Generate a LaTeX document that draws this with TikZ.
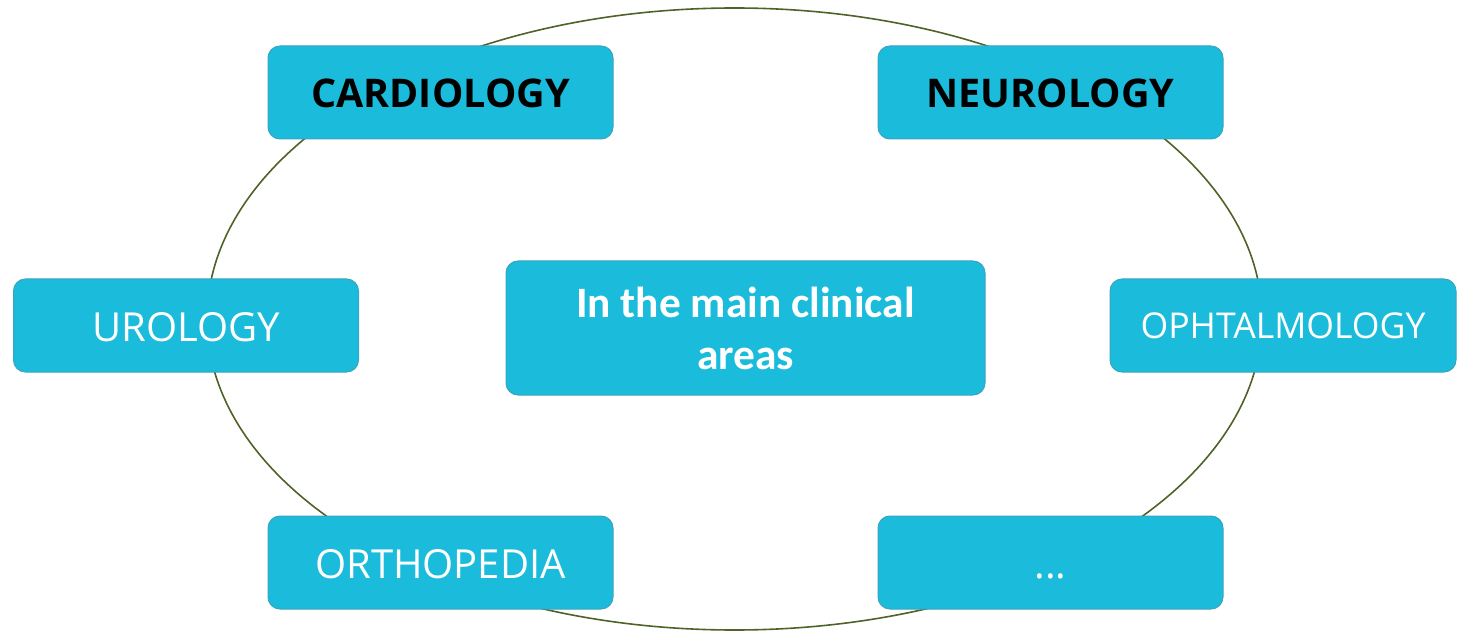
\documentclass[tikz,border=0pt]{standalone}
\usepackage{fontspec}
\setmainfont{Open Sans}
\newfontfamily\centerfont{Carlito}
\definecolor{boxfill}{HTML}{1ABBDB}
\definecolor{boxline}{HTML}{3AA5BE}
\definecolor{ringcol}{HTML}{4F6228}
\begin{document}
\begin{tikzpicture}[x=1pt,y=-1pt,
  area/.style={draw=boxline, line width=1pt, fill=boxfill, rounded corners=12pt,
    minimum width=345pt, minimum height=93pt, inner sep=0pt,
    text height=31pt, text depth=0pt,
    font=\fontsize{40}{46}\selectfont, text=white},
  keyarea/.style={area, text=black, font=\fontsize{39.5}{46}\selectfont\bfseries},
  hub/.style={area, minimum width=479pt, minimum height=134pt, align=center,
    text height=, text depth=,
    font=\centerfont\fontsize{43.4}{52}\selectfont\bfseries}]
\useasboundingbox (0,0) rectangle (1465,631);
\draw[ringcol, line width=1.6pt] (734.5,319) ellipse [x radius=527.5, y radius=311];
\node[keyarea] (card) at (440.5,92.5) {CARDIOLOGY};
\node[keyarea] (neuro) at (1050.5,92.5) {NEUROLOGY};
\node[area] (uro) at (186,325.5) {UROLOGY};
\node[area, minimum width=346pt, text height=25pt, font=\fontsize{35.6}{42}\selectfont] (oph) at (1283,325.5) {OPHTALMOLOGY};
\node[area] (ortho) at (440.5,562.5) {ORTHOPEDIA};
\node[area] (more) at (1050.5,562.5) {...};
\node[hub] (main) at (745.5,328) {In the main clinical\\areas};
\end{tikzpicture}
\end{document}
